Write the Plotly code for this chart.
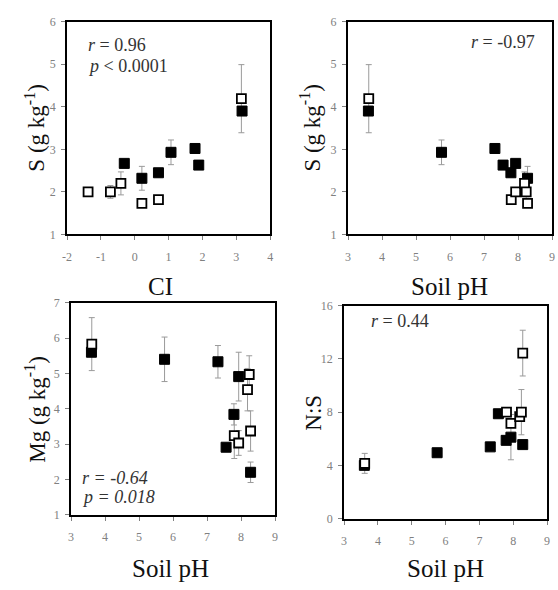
import plotly.graph_objects as go

# Sites with closed (filled) and open symbols
ph_filled = [3.60, 5.75, 7.32, 7.56, 7.79, 7.93, 8.28]
ph_open = [3.61, 7.80, 7.93, 8.19, 8.24, 8.28]

ci_filled = [3.17, 1.07, 1.78, 1.89, 0.70, -0.31, 0.21]
ci_open = [3.15, 0.70, -1.38, -0.41, -0.72, 0.21]

s_filled = [3.90, 2.93, 3.02, 2.63, 2.45, 2.67, 2.32]
s_filled_err = [0.10, 0.29, 0.10, 0.05, 0.10, 0.05, 0.28]
s_open = [4.19, 1.82, 2.00, 2.20, 2.00, 1.73]
s_open_err = [0.80, 0.05, 0.05, 0.27, 0.15, 0.05]

mg_filled = [5.60, 5.40, 5.33, 2.91, 3.84, 4.91, 2.20]
mg_filled_err = [0.10, 0.63, 0.46, 0.10, 0.30, 0.69, 0.29]
mg_open = [5.83, 3.24, 3.03, 4.54, 4.97, 3.37]
mg_open_err = [0.75, 0.65, 0.35, 0.60, 0.53, 0.57]

ns_filled = [4.00, 4.95, 5.39, 7.88, 5.88, 6.12, 5.56]
ns_filled_err = [0.20, 0.20, 0.20, 0.20, 0.30, 1.70, 0.30]
ns_open = [4.15, 8.00, 7.15, 7.66, 8.00, 12.44]
ns_open_err = [0.75, 0.20, 0.30, 0.30, 1.70, 1.72]

# CI axis tick labels (plain hyphen for negatives)
ci_tickvals = [-2, -1, 0, 1, 2, 3, 4]
ci_ticktext = ["-2", "-1", "0", "1", "2", "3", "4"]

FONT = "Liberation Serif"
ERR_COLOR = "#9a9a9a"
TICK_COLOR = "#808080"

fig = go.Figure()

panels = [
    # (axis suffix, x_f, y_f, ef, x_o, y_o, eo)
    ("", ci_filled, s_filled, s_filled_err, ci_open, s_open, s_open_err),
    ("2", ph_filled, s_filled, s_filled_err, ph_open, s_open, s_open_err),
    ("3", ph_filled, mg_filled, mg_filled_err, ph_open, mg_open, mg_open_err),
    ("4", ph_filled, ns_filled, ns_filled_err, ph_open, ns_open, ns_open_err),
]

for suf, xf, yf, ef, xo, yo, eo in panels:
    xa, ya = "x" + suf, "y" + suf
    # error bars underneath every marker
    for xs, ys, es in ((xf, yf, ef), (xo, yo, eo)):
        fig.add_trace(go.Scatter(
            x=xs, y=ys, mode="markers", xaxis=xa, yaxis=ya,
            marker=dict(size=1, color="rgba(0,0,0,0)"),
            error_y=dict(type="data", array=es, visible=True,
                         color=ERR_COLOR, thickness=1, width=3),
            showlegend=False, hoverinfo="skip"))
    fig.add_trace(go.Scatter(
        x=xf, y=yf, mode="markers", xaxis=xa, yaxis=ya,
        marker=dict(symbol="square", size=10, color="black",
                    line=dict(color="black", width=1)),
        showlegend=False))
    fig.add_trace(go.Scatter(
        x=xo, y=yo, mode="markers", xaxis=xa, yaxis=ya,
        marker=dict(symbol="square", size=9, color="white",
                    line=dict(color="black", width=1.8)),
        showlegend=False))

W, H = 558, 590


def xdom(a, b):
    return [a / W, b / W]


def ydom(top, bottom):
    return [1 - bottom / H, 1 - top / H]


common = dict(
    showline=True, mirror=True, linecolor="black", linewidth=2,
    showgrid=False, zeroline=False,
    ticks="outside", ticklen=4, tickwidth=1, tickcolor=TICK_COLOR,
    tickfont=dict(family=FONT, size=12, color=TICK_COLOR),
)

layout_axes = {
    "xaxis": dict(domain=xdom(63, 269), range=[-2, 4], anchor="y",
                  tickmode="array", tickvals=ci_tickvals, ticktext=ci_ticktext,
                  ticklabelstandoff=6, **common),
    "yaxis": dict(domain=ydom(15, 233), range=[1, 6], dtick=1, anchor="x",
                  ticklabelstandoff=3, **common),
    "xaxis2": dict(domain=xdom(348, 555), range=[3, 9], dtick=1, anchor="y2",
                   ticklabelstandoff=6, **common),
    "yaxis2": dict(domain=ydom(15, 233), range=[1, 6], dtick=1, anchor="x2",
                   ticklabelstandoff=3, **common),
    "xaxis3": dict(domain=xdom(67, 274), range=[3, 9], dtick=1, anchor="y3",
                   ticklabelstandoff=6, **common),
    "yaxis3": dict(domain=ydom(303, 520), range=[1, 7], dtick=1, anchor="x3",
                   ticklabelstandoff=3, **common),
    "xaxis4": dict(domain=xdom(344, 550), range=[3, 9], dtick=1, anchor="y4",
                   ticklabelstandoff=6, **common),
    "yaxis4": dict(domain=ydom(306, 524), range=[0, 16], dtick=4, anchor="x4",
                   ticklabelstandoff=3, **common),
}

TITLE_FONT = dict(family=FONT, size=25, color="#111111")
YT_FONT = dict(family=FONT, size=23, color="#111111")
STAT_FONT = dict(family=FONT, size=18, color="#333333")


def px_ann(text, x, y, font, angle=0, xanchor="center", yanchor="middle"):
    return dict(text=text, x=x / W, y=1 - y / H, xref="paper", yref="paper",
                showarrow=False, font=font, textangle=angle,
                xanchor=xanchor, yanchor=yanchor)


annotations = [
    # axis titles
    px_ann("CI", 158, 286, TITLE_FONT),
    px_ann("Soil pH", 451, 286, TITLE_FONT),
    px_ann("Soil pH", 168, 575, TITLE_FONT),
    px_ann("Soil pH", 447, 575, TITLE_FONT),
    px_ann("S (g kg<sup>-1</sup>)", 30, 124, YT_FONT, angle=-90),
    px_ann("S (g kg<sup>-1</sup>)", 310, 124, YT_FONT, angle=-90),
    px_ann("Mg (g kg<sup>-1</sup>)", 31, 412, YT_FONT, angle=-90),
    px_ann("N:S", 313, 416, YT_FONT, angle=-90),
    # correlation statistics
    px_ann("<i>r</i> = 0.96", 82, 39, STAT_FONT, xanchor="left"),
    px_ann("<i>p</i> < 0.0001", 82, 60, STAT_FONT, xanchor="left"),
    px_ann("<i>r</i> = -0.97", 540, 36, STAT_FONT, xanchor="right"),
    px_ann("<i>r = -0.64</i>", 76, 482, STAT_FONT, xanchor="left"),
    px_ann("<i>p = 0.018</i>", 76, 502, STAT_FONT, xanchor="left"),
    px_ann("<i>r</i> = 0.44", 369, 322, STAT_FONT, xanchor="left"),
]

fig.update_layout(
    width=W, height=H,
    margin=dict(l=0, r=0, t=0, b=0),
    paper_bgcolor="white", plot_bgcolor="white",
    font=dict(family=FONT),
    annotations=annotations,
    **layout_axes,
)

fig.write_html("out.html")
